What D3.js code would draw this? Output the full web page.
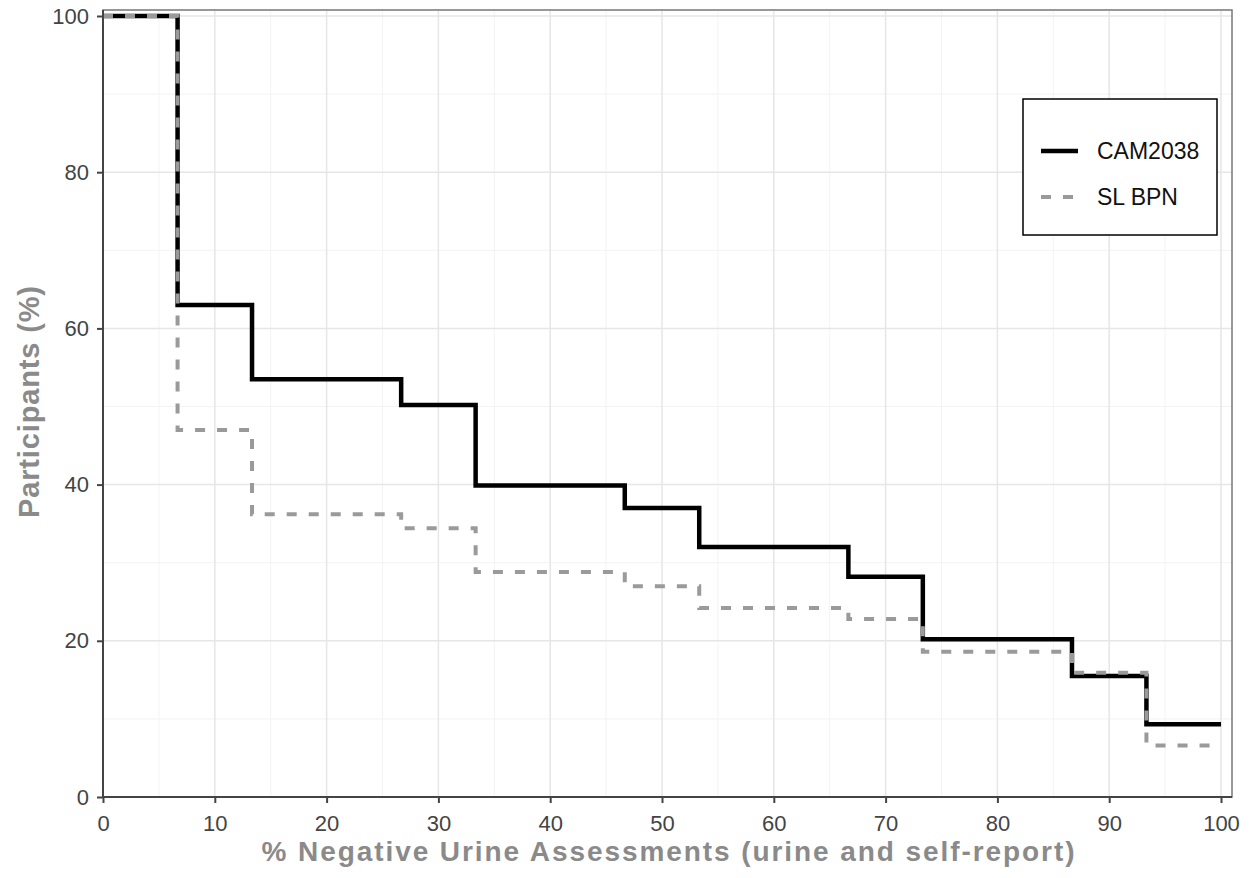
<!DOCTYPE html>
<html>
<head>
    <title>Negative urine assessments</title>
    <script src="https://d3js.org/d3.v7.min.js"></script>
    <style>
        body { margin: 0; background-color: #ffffff; }
        svg text { font-family: "Liberation Sans", Arial, Helvetica, sans-serif; }
    </style>
</head>
<body>
<script>
    // step positions (% negative assessments) and the two series
    const steps = [0, 6.67, 13.33, 26.67, 33.33, 46.67, 53.33, 66.67, 73.33, 86.67, 93.33, 100];
    const cam2038 = [100, 63.0, 53.5, 50.2, 39.9, 37.0, 32.0, 28.2, 20.2, 15.5, 9.3, 9.3];
    const slBpn   = [100, 47.0, 36.2, 34.4, 28.8, 27.0, 24.2, 22.8, 18.6, 15.9, 6.6, 6.6];
    const xTicks = [0, 10, 20, 30, 40, 50, 60, 70, 80, 90, 100];
    const yTicks = [0, 20, 40, 60, 80, 100];
    const seriesNames = ["CAM2038", "SL BPN"];

    const W = 1252, H = 878;
    const svg = d3.select("body").append("svg")
        .attr("width", W)
        .attr("height", H);

    // panel
    const panel = {left: 103, right: 1232, top: 10, bottom: 797};
    const x = d3.scaleLinear().domain([0, 100]).range([103, 1221]);
    const y = d3.scaleLinear().domain([0, 100]).range([797, 16]);

    svg.append("rect")
        .attr("x", panel.left).attr("y", panel.top)
        .attr("width", panel.right - panel.left)
        .attr("height", panel.bottom - panel.top)
        .attr("fill", "#ffffff");

    // minor grid
    const xMinor = d3.range(5, 100, 10);
    const yMinor = d3.range(10, 100, 20);
    svg.append("g").selectAll("line").data(xMinor).enter().append("line")
        .attr("x1", d => x(d)).attr("x2", d => x(d))
        .attr("y1", panel.top).attr("y2", panel.bottom)
        .attr("stroke", "#f3f3f3").attr("stroke-width", 1);
    svg.append("g").selectAll("line").data(yMinor).enter().append("line")
        .attr("y1", d => y(d)).attr("y2", d => y(d))
        .attr("x1", panel.left).attr("x2", panel.right)
        .attr("stroke", "#f3f3f3").attr("stroke-width", 1);

    // major grid
    svg.append("g").selectAll("line").data(xTicks).enter().append("line")
        .attr("x1", d => x(d)).attr("x2", d => x(d))
        .attr("y1", panel.top).attr("y2", panel.bottom)
        .attr("stroke", "#e6e6e6").attr("stroke-width", 1.5);
    svg.append("g").selectAll("line").data(yTicks).enter().append("line")
        .attr("y1", d => y(d)).attr("y2", d => y(d))
        .attr("x1", panel.left).attr("x2", panel.right)
        .attr("stroke", "#e6e6e6").attr("stroke-width", 1.5);

    // step lines
    const line = d3.line()
        .x(d => x(d[0]))
        .y(d => y(d[1]))
        .curve(d3.curveStepAfter);

    svg.append("path")
        .datum(steps.map((s, i) => [s, cam2038[i]]))
        .attr("d", line)
        .attr("fill", "none")
        .attr("stroke", "#000000")
        .attr("stroke-width", 4.5);

    svg.append("path")
        .datum(steps.map((s, i) => [s, slBpn[i]]))
        .attr("d", line)
        .attr("fill", "none")
        .attr("stroke", "#9a9a9a")
        .attr("stroke-width", 4)
        .attr("stroke-dasharray", "10,12");

    // panel border
    svg.append("rect")
        .attr("x", panel.left).attr("y", panel.top)
        .attr("width", panel.right - panel.left)
        .attr("height", panel.bottom - panel.top)
        .attr("fill", "none")
        .attr("stroke", "#777777")
        .attr("stroke-width", 1.5);

    // axes
    const xAxis = svg.append("g")
        .attr("transform", "translate(0," + panel.bottom + ")")
        .call(d3.axisBottom(x).tickValues(xTicks).tickSize(6).tickPadding(12).tickFormat(d3.format("d")));
    const yAxis = svg.append("g")
        .attr("transform", "translate(" + panel.left + ",0)")
        .call(d3.axisLeft(y).tickValues(yTicks).tickSize(6).tickPadding(8).tickFormat(d3.format("d")));

    [xAxis, yAxis].forEach(a => {
        a.select(".domain").attr("stroke", "#444444").attr("stroke-width", 2);
        a.selectAll(".tick line").attr("stroke", "#444444").attr("stroke-width", 2);
        a.selectAll(".tick text")
            .attr("fill", "#444444")
            .style("font-size", "22px");
    });
    xAxis.select(".domain").attr("d", "M" + panel.left + ",0H" + panel.right);
    yAxis.select(".domain").attr("d", "M0," + panel.bottom + "V" + panel.top);

    // axis titles
    svg.append("text")
        .attr("x", 668)
        .attr("y", 861)
        .attr("text-anchor", "middle")
        .attr("fill", "#8a8a8a")
        .attr("textLength", 813)
        .attr("lengthAdjust", "spacing")
        .style("font-size", "28px")
        .style("font-weight", "bold")
        .text("% Negative Urine Assessments (urine and self-report)");

    svg.append("text")
        .attr("transform", "translate(39,402) rotate(-90)")
        .attr("text-anchor", "middle")
        .attr("fill", "#8a8a8a")
        .attr("textLength", 232)
        .attr("lengthAdjust", "spacing")
        .style("font-size", "29px")
        .style("font-weight", "bold")
        .text("Participants (%)");

    // legend
    const legend = svg.append("g");
    legend.append("rect")
        .attr("x", 1023).attr("y", 99)
        .attr("width", 194).attr("height", 136)
        .attr("fill", "#ffffff")
        .attr("stroke", "#000000")
        .attr("stroke-width", 1.5);

    const legendStyles = [
        {stroke: "#000000", width: 4.5, dash: null},
        {stroke: "#9a9a9a", width: 4, dash: "10,12"}
    ];
    seriesNames.forEach((name, i) => {
        const ly = 151 + i * 46;
        legend.append("line")
            .attr("x1", 1041).attr("x2", 1078)
            .attr("y1", ly).attr("y2", ly)
            .attr("stroke", legendStyles[i].stroke)
            .attr("stroke-width", legendStyles[i].width)
            .attr("stroke-dasharray", legendStyles[i].dash);
        legend.append("text")
            .attr("x", 1097).attr("y", ly + 8)
            .attr("fill", "#111111")
            .style("font-size", "23px")
            .text(name);
    });
</script>
</body>
</html>
